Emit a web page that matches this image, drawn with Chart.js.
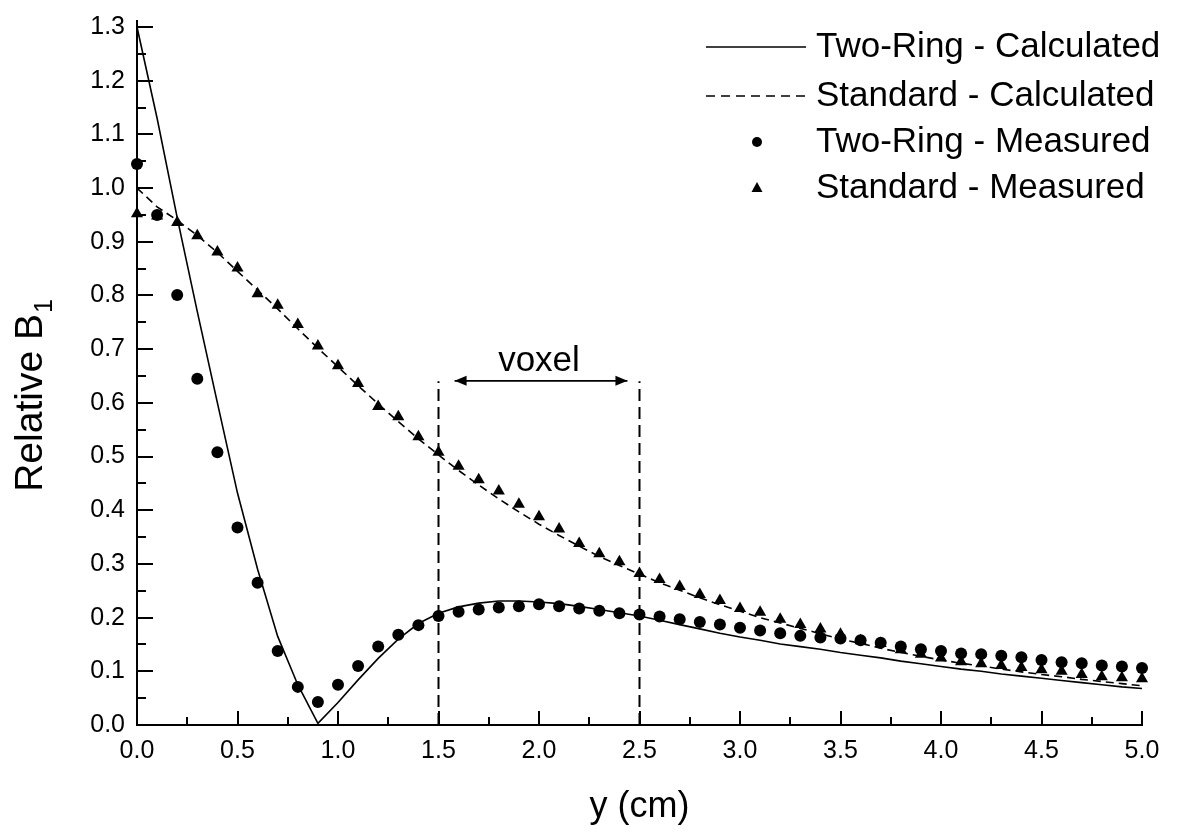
<!DOCTYPE html>
<html>
<head>
<meta charset="utf-8">
<script src="https://cdn.jsdelivr.net/npm/chart.js@4.4.1/dist/chart.umd.min.js"></script>
<style>
  html, body { margin: 0; padding: 0; background: #fff; }
  #wrap { width: 1178px; height: 833px; }
</style>
</head>
<body>
<div id="wrap"><canvas id="b1Chart" width="1178" height="833"></canvas></div>
<script>
// positions along y (cm)
const positions = [0.0, 0.1, 0.2, 0.3, 0.4, 0.5, 0.6, 0.7, 0.8, 0.9,
  1.0, 1.1, 1.2, 1.3, 1.4, 1.5, 1.6, 1.7, 1.8, 1.9,
  2.0, 2.1, 2.2, 2.3, 2.4, 2.5, 2.6, 2.7, 2.8, 2.9,
  3.0, 3.1, 3.2, 3.3, 3.4, 3.5, 3.6, 3.7, 3.8, 3.9,
  4.0, 4.1, 4.2, 4.3, 4.4, 4.5, 4.6, 4.7, 4.8, 4.9, 5.0];

const twoRingCalc = [1.300, 1.130, 0.945, 0.770, 0.600, 0.432, 0.290, 0.165, 0.075, 0.003,
  0.042, 0.084, 0.124, 0.160, 0.189, 0.208, 0.220, 0.227, 0.231, 0.231,
  0.229, 0.226, 0.221, 0.215, 0.209, 0.203, 0.195, 0.187, 0.179, 0.171,
  0.164, 0.158, 0.151, 0.146, 0.141, 0.135, 0.130, 0.125, 0.119, 0.114,
  0.109, 0.104, 0.100, 0.095, 0.091, 0.087, 0.083, 0.079, 0.075, 0.071, 0.068];

const standardCalc = [1.000, 0.965, 0.940, 0.912, 0.880, 0.845, 0.810, 0.775, 0.738, 0.702,
  0.667, 0.632, 0.598, 0.565, 0.533, 0.503, 0.474, 0.447, 0.421, 0.397,
  0.374, 0.353, 0.333, 0.314, 0.297, 0.281, 0.265, 0.251, 0.237, 0.224,
  0.212, 0.200, 0.190, 0.180, 0.170, 0.160, 0.152, 0.143, 0.135, 0.128,
  0.121, 0.115, 0.110, 0.104, 0.099, 0.094, 0.090, 0.085, 0.081, 0.077, 0.073];

const twoRingMeas = [1.045, 0.950, 0.801, 0.645, 0.508, 0.368, 0.265, 0.138, 0.071, 0.043,
  0.075, 0.110, 0.146, 0.168, 0.186, 0.203, 0.211, 0.215, 0.219, 0.221,
  0.225, 0.221, 0.217, 0.213, 0.208, 0.206, 0.202, 0.197, 0.192, 0.187,
  0.181, 0.176, 0.171, 0.166, 0.163, 0.161, 0.158, 0.153, 0.146, 0.141,
  0.138, 0.133, 0.132, 0.129, 0.126, 0.121, 0.117, 0.115, 0.111, 0.109, 0.106];

const standardMeas = [0.952, 0.948, 0.936, 0.911, 0.881, 0.851, 0.803, 0.782, 0.746, 0.706,
  0.669, 0.636, 0.593, 0.574, 0.537, 0.508, 0.482, 0.457, 0.436, 0.411,
  0.388, 0.365, 0.338, 0.319, 0.304, 0.282, 0.271, 0.258, 0.243, 0.232,
  0.217, 0.210, 0.197, 0.187, 0.179, 0.169, 0.157, 0.152, 0.140, 0.132,
  0.125, 0.118, 0.114, 0.111, 0.107, 0.103, 0.100, 0.094, 0.090, 0.088, 0.086];

const xTicks = [0.0, 0.5, 1.0, 1.5, 2.0, 2.5, 3.0, 3.5, 4.0, 4.5, 5.0];
const yTicks = [0.0, 0.1, 0.2, 0.3, 0.4, 0.5, 0.6, 0.7, 0.8, 0.9, 1.0, 1.1, 1.2, 1.3];

// voxel markers
const voxelEdges = [1.5, 2.5];
const voxelTop = 0.64;
const voxelArrow = { from: 1.58, to: 2.44, level: 0.641 };
const voxelLabel = { text: 'voxel', x: 2.0, y: 0.66 };

const legendItems = ['Two-Ring - Calculated', 'Standard - Calculated', 'Two-Ring - Measured', 'Standard - Measured'];

const FONT = '"Liberation Sans", Arial, Helvetica, sans-serif';
const pts = vals => positions.map((p, i) => ({ x: p, y: vals[i] }));

const decorations = {
  id: 'decorations',
  beforeDraw(chart) {
    const ctx = chart.ctx;
    ctx.save();
    ctx.fillStyle = '#fff';
    ctx.fillRect(0, 0, chart.width, chart.height);
    ctx.restore();
  },
  afterDraw(chart) {
    const { ctx, chartArea: a, scales: { x, y } } = chart;
    ctx.save();
    ctx.strokeStyle = '#000';
    ctx.fillStyle = '#000';
    ctx.lineWidth = 2;

    // inward tick marks (major + minor)
    ctx.beginPath();
    for (let i = 0; i < yTicks.length; i++) {
      const py = Math.round(y.getPixelForValue(yTicks[i]));
      ctx.moveTo(a.left, py); ctx.lineTo(a.left + 16, py);
      if (i < yTicks.length - 1) {
        const pm = Math.round(y.getPixelForValue((yTicks[i] + yTicks[i + 1]) / 2));
        ctx.moveTo(a.left, pm); ctx.lineTo(a.left + 9, pm);
      }
    }
    for (let i = 0; i < xTicks.length; i++) {
      const px = Math.round(x.getPixelForValue(xTicks[i]));
      ctx.moveTo(px, a.bottom); ctx.lineTo(px, a.bottom - 14);
      if (i < xTicks.length - 1) {
        const pm = Math.round(x.getPixelForValue((xTicks[i] + xTicks[i + 1]) / 2));
        ctx.moveTo(pm, a.bottom); ctx.lineTo(pm, a.bottom - 8);
      }
    }
    // axis line runs a little past 1.3
    ctx.moveTo(a.left, a.top); ctx.lineTo(a.left, a.top - 7);
    ctx.stroke();

    // voxel arrow
    const ax1 = x.getPixelForValue(voxelArrow.from);
    const ax2 = x.getPixelForValue(voxelArrow.to);
    const ay = y.getPixelForValue(voxelArrow.level);
    ctx.lineWidth = 1.6;
    ctx.beginPath();
    ctx.moveTo(ax1, ay); ctx.lineTo(ax2, ay);
    ctx.stroke();
    ctx.beginPath();
    ctx.moveTo(ax1, ay); ctx.lineTo(ax1 + 12, ay - 5); ctx.lineTo(ax1 + 12, ay + 5); ctx.closePath();
    ctx.moveTo(ax2, ay); ctx.lineTo(ax2 - 12, ay - 5); ctx.lineTo(ax2 - 12, ay + 5); ctx.closePath();
    ctx.fill();

    ctx.font = '35px ' + FONT;
    ctx.textAlign = 'center';
    ctx.textBaseline = 'alphabetic';
    ctx.fillText(voxelLabel.text, x.getPixelForValue(voxelLabel.x), y.getPixelForValue(voxelLabel.y));

    // x axis title
    ctx.font = '36px ' + FONT;
    ctx.fillText('y (cm)', (a.left + a.right) / 2, 817);

    // y axis title with subscript
    ctx.save();
    ctx.translate(42, (a.top + a.bottom) / 2 + 20);
    ctx.rotate(-Math.PI / 2);
    ctx.font = '39px ' + FONT;
    const main = 'Relative B';
    const wMain = ctx.measureText(main).width;
    ctx.font = '25px ' + FONT;
    const wSub = ctx.measureText('1').width;
    const start = -(wMain + wSub) / 2;
    ctx.textAlign = 'left';
    ctx.font = '39px ' + FONT;
    ctx.fillText(main, start, 0);
    ctx.font = '25px ' + FONT;
    ctx.fillText('1', start + wMain + 1, 10);
    ctx.restore();

    // legend
    const rowsY = [47, 96, 142, 188];
    const lx1 = 706, lx2 = 806, mx = 757, tx = 816;
    ctx.lineWidth = 1.6;
    ctx.beginPath(); ctx.moveTo(lx1, rowsY[0]); ctx.lineTo(lx2, rowsY[0]); ctx.stroke();
    ctx.setLineDash([9, 6]);
    ctx.beginPath(); ctx.moveTo(lx1, rowsY[1]); ctx.lineTo(lx2, rowsY[1]); ctx.stroke();
    ctx.setLineDash([]);
    ctx.beginPath(); ctx.arc(mx, rowsY[2], 5, 0, Math.PI * 2); ctx.fill();
    ctx.beginPath();
    ctx.moveTo(mx, rowsY[3] - 6); ctx.lineTo(mx + 5.5, rowsY[3] + 4); ctx.lineTo(mx - 5.5, rowsY[3] + 4);
    ctx.closePath(); ctx.fill();
    ctx.font = '35px ' + FONT;
    ctx.textAlign = 'left';
    ctx.textBaseline = 'middle';
    legendItems.forEach((t, i) => ctx.fillText(t, tx, rowsY[i]));

    ctx.restore();
  }
};

const edgeSets = voxelEdges.map(v => ({
  label: 'voxel edge',
  data: [{ x: v, y: 0 }, { x: v, y: voxelTop }],
  borderColor: '#000',
  borderWidth: 2,
  borderDash: [12, 6],
  pointRadius: 0,
  clip: false
}));

const ctx = document.getElementById('b1Chart').getContext('2d');
const b1Chart = new Chart(ctx, {
  type: 'line',
  data: {
    datasets: [
      {
        label: legendItems[0],
        data: pts(twoRingCalc),
        borderColor: '#000',
        borderWidth: 1.6,
        pointRadius: 0,
        tension: 0,
        clip: false
      },
      {
        label: legendItems[1],
        data: pts(standardCalc),
        borderColor: '#000',
        borderWidth: 1.6,
        borderDash: [8, 5],
        pointRadius: 0,
        tension: 0,
        clip: false
      },
      {
        label: legendItems[2],
        data: pts(twoRingMeas),
        showLine: false,
        pointStyle: 'circle',
        pointRadius: 6,
        pointBorderWidth: 0,
        pointBackgroundColor: '#000',
        clip: false
      },
      {
        label: legendItems[3],
        data: pts(standardMeas),
        showLine: false,
        pointStyle: 'triangle',
        pointRadius: 7,
        pointBorderWidth: 0,
        pointBackgroundColor: '#000',
        clip: false
      },
      ...edgeSets
    ]
  },
  options: {
    responsive: false,
    animation: false,
    layout: { padding: { top: 19, right: 36, left: 0, bottom: 0 } },
    plugins: {
      legend: { display: false },
      tooltip: { enabled: false }
    },
    scales: {
      x: {
        type: 'linear',
        min: 0,
        max: 5,
        afterBuildTicks: s => { s.ticks = xTicks.map(v => ({ value: v })); },
        afterFit: s => { s.height = 108; },
        grid: { display: false, drawTicks: false },
        border: { display: true, color: '#000', width: 2 },
        ticks: {
          color: '#000',
          padding: 11,
          maxRotation: 0,
          font: { family: FONT, size: 25 },
          callback: v => Number(v).toFixed(1)
        }
      },
      y: {
        type: 'linear',
        min: 0,
        max: 1.3,
        afterBuildTicks: s => { s.ticks = yTicks.map(v => ({ value: v })); },
        afterFit: s => { s.width = 137; },
        grid: { display: false, drawTicks: false },
        border: { display: true, color: '#000', width: 2 },
        ticks: {
          color: '#000',
          padding: 12,
          font: { family: FONT, size: 25 },
          callback: v => Number(v).toFixed(1)
        }
      }
    }
  },
  plugins: [decorations]
});
</script>
</body>
</html>
